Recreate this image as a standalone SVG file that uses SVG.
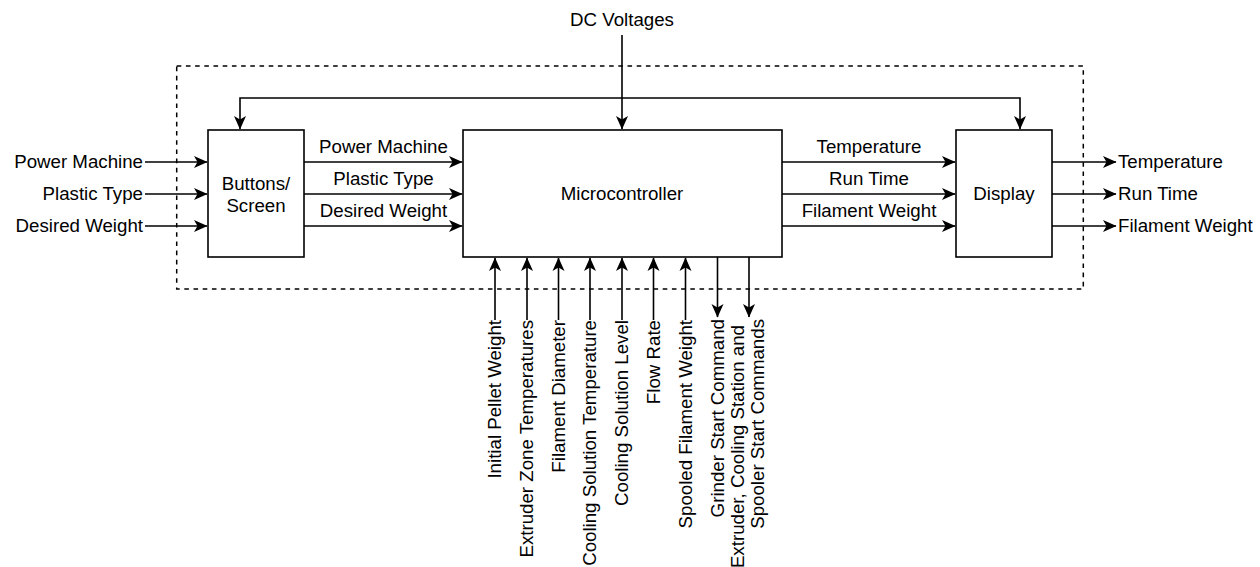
<svg xmlns="http://www.w3.org/2000/svg" width="1260" height="567" viewBox="0 0 1260 567">
  <style>
    text { font-family: "Liberation Sans", Arial, sans-serif; font-size: 18.7px; fill: #000; }
    .box { fill: #fff; stroke: #000; stroke-width: 1.6; }
    .wire { fill: none; stroke: #000; stroke-width: 1.6; }
    .arrow { marker-end: url(#head); }
    .boundary { fill: none; stroke: #000; stroke-width: 1.5; stroke-dasharray: 4.6 4.6; }
    .mid { text-anchor: middle; }
    .end { text-anchor: end; }
  </style>
  <defs>
    <marker id="head" viewBox="-14 -7 15 14" refX="0" refY="0" markerWidth="15" markerHeight="14" markerUnits="userSpaceOnUse" orient="auto">
      <path d="M0.5,0 L-13,-6 L-9.5,0 L-13,6 Z" fill="#000"/>
    </marker>
  </defs>

  <rect id="white-bg" x="0" y="0" width="1260" height="567" fill="#fff"/>

  <!-- system boundary -->
  <g id="boundary">
    <rect class="boundary" x="176.7" y="66" width="906.6" height="223"/>
  </g>

  <!-- connectors -->
  <g id="connectors">
    <!-- supply -->
    <path class="wire arrow" d="M622,35 V129"/>
    <!-- feedback bus -->
    <path class="wire arrow" d="M622,98 H240 V129"/>
    <path class="wire arrow" d="M622,98 H1020 V129"/>
    <!-- user inputs -->
    <path class="wire arrow" d="M145,162 H207"/>
    <path class="wire arrow" d="M145,194 H207"/>
    <path class="wire arrow" d="M145,226 H207"/>
    <!-- buttons to microcontroller -->
    <path class="wire arrow" d="M304,162 H462"/>
    <path class="wire arrow" d="M304,194 H462"/>
    <path class="wire arrow" d="M304,226 H462"/>
    <!-- microcontroller to display -->
    <path class="wire arrow" d="M782,162 H955"/>
    <path class="wire arrow" d="M782,194 H955"/>
    <path class="wire arrow" d="M782,226 H955"/>
    <!-- display outputs -->
    <path class="wire arrow" d="M1052,162 H1116"/>
    <path class="wire arrow" d="M1052,194 H1116"/>
    <path class="wire arrow" d="M1052,226 H1116"/>
    <!-- sensor inputs -->
    <path class="wire arrow" d="M495,320 V258"/>
    <path class="wire arrow" d="M527,320 V258"/>
    <path class="wire arrow" d="M558.5,320 V258"/>
    <path class="wire arrow" d="M590,320 V258"/>
    <path class="wire arrow" d="M622,320 V258"/>
    <path class="wire arrow" d="M653.5,320 V258"/>
    <path class="wire arrow" d="M685.5,320 V258"/>
    <!-- command outputs -->
    <path class="wire arrow" d="M717.5,257 V317"/>
    <path class="wire arrow" d="M749,257 V317"/>
  </g>

  <!-- nodes -->
  <g id="buttons-screen">
    <rect class="box" x="208" y="130" width="96" height="127"/>
    <text class="mid" x="256" y="190">Buttons/</text>
    <text class="mid" x="256" y="212">Screen</text>
  </g>
  <g id="microcontroller">
    <rect class="box" x="463" y="130" width="319" height="127"/>
    <text class="mid" x="622" y="200">Microcontroller</text>
  </g>
  <g id="display">
    <rect class="box" x="956" y="130" width="96" height="127"/>
    <text class="mid" x="1004" y="200">Display</text>
  </g>

  <!-- labels -->
  <g id="labels">
    <text class="mid" x="622" y="26">DC Voltages</text>

    <text class="end" x="143" y="168">Power Machine</text>
    <text class="end" x="143" y="200">Plastic Type</text>
    <text class="end" x="143" y="232">Desired Weight</text>

    <text class="mid" x="383.5" y="153">Power Machine</text>
    <text class="mid" x="383.5" y="185">Plastic Type</text>
    <text class="mid" x="383.5" y="217">Desired Weight</text>

    <text class="mid" x="869" y="153">Temperature</text>
    <text class="mid" x="869" y="185">Run Time</text>
    <text class="mid" x="869" y="217">Filament Weight</text>

    <text x="1118" y="168">Temperature</text>
    <text x="1118" y="200">Run Time</text>
    <text x="1118" y="232">Filament Weight</text>

    <text class="end" transform="translate(501,320) rotate(-90)">Initial Pellet Weight</text>
    <text class="end" transform="translate(533,320) rotate(-90)">Extruder Zone Temperatures</text>
    <text class="end" transform="translate(564.5,320) rotate(-90)">Filament Diameter</text>
    <text class="end" transform="translate(596,320) rotate(-90)">Cooling Solution Temperature</text>
    <text class="end" transform="translate(628,320) rotate(-90)">Cooling Solution Level</text>
    <text class="end" transform="translate(659.5,320) rotate(-90)">Flow Rate</text>
    <text class="end" transform="translate(691.5,320) rotate(-90)">Spooled Filament Weight</text>
    <text class="end" transform="translate(723.5,319) rotate(-90)">Grinder Start Command</text>
    <text class="end" transform="translate(743.5,325) rotate(-90)">Extruder, Cooling Station and</text>
    <text class="end" transform="translate(764,319) rotate(-90)">Spooler Start Commands</text>
  </g>
</svg>
